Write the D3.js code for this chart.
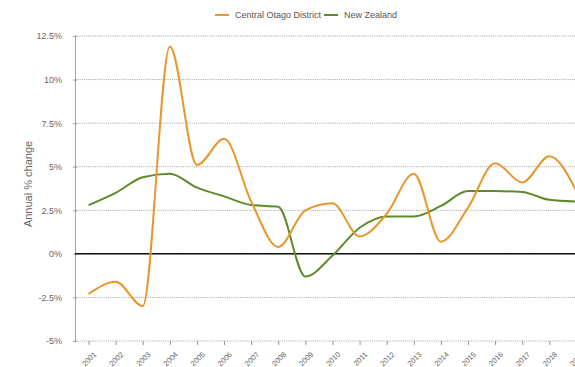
<!DOCTYPE html>
<html>
<head>
<meta charset="utf-8">
<script src="https://cdn.jsdelivr.net/npm/d3@7"></script>
<style>
  html, body { margin: 0; padding: 0; background: #fff; }
  svg { display: block; font-family: "Liberation Sans", Arial, sans-serif; }
</style>
</head>
<body>
<svg id="chart" width="575" height="367"></svg>
<script>
// Annual % change, 2001–2019
const years = ["2001","2002","2003","2004","2005","2006","2007","2008","2009","2010",
               "2011","2012","2013","2014","2015","2016","2017","2018","2019"];
const centralOtago = [-2.3, -1.6, -3.0, 11.9, 5.1, 6.6, 3.0, 0.4, 2.5, 2.9,
                      1.0, 2.3, 4.6, 0.7, 2.65, 5.2, 4.1, 5.6, 3.6];
const newZealand   = [2.8, 3.5, 4.4, 4.6, 3.8, 3.3, 2.8, 2.7, -1.3, -0.1,
                      1.5, 2.15, 2.15, 2.75, 3.6, 3.6, 3.55, 3.1, 3.0];
const yTicks = [-5, -2.5, 0, 2.5, 5, 7.5, 10, 12.5];
const seriesNames = ["Central Otago District", "New Zealand"];
const seriesColors = ["#E8972E", "#5E8B2A"];

const svg = d3.select("#chart");
const plotLeft = 75, plotRight = 590, plotTop = 36, plotBottom = 341;

const x = d3.scalePoint().domain(years).range([plotLeft, plotRight]).padding(0.5);
const y = d3.scaleLinear().domain([-5, 12.5]).range([plotBottom, plotTop]);

const fmt = v => (Number.isInteger(v) ? v : v.toFixed(1)) + "%";

// Horizontal dotted gridlines
svg.append("g")
  .selectAll("line")
  .data(yTicks)
  .join("line")
  .attr("x1", plotLeft).attr("x2", 575)
  .attr("y1", d => y(d)).attr("y2", d => y(d))
  .attr("stroke", "#9a9a9a")
  .attr("stroke-width", 0.8)
  .attr("stroke-dasharray", "1.2,1");

// Y axis with small ticks straddling the axis line
const yAxis = svg.append("g")
  .attr("transform", `translate(${plotLeft},0)`)
  .call(d3.axisLeft(y).tickValues(yTicks).tickFormat(fmt).tickSize(2).tickSizeOuter(0).tickPadding(11));
yAxis.select(".domain").attr("stroke", "#8c8c8c").attr("stroke-width", 0.8);
yAxis.selectAll(".tick line").attr("x2", -2).attr("x1", 2).attr("stroke", "#8c8c8c").attr("stroke-width", 0.8);
yAxis.selectAll("text").attr("fill", "#666").style("font-size", "9px");

// X axis
const xAxis = svg.append("g")
  .attr("transform", `translate(0,${plotBottom})`)
  .call(d3.axisBottom(x).tickSize(4).tickSizeOuter(0));
xAxis.select(".domain").remove();
xAxis.selectAll(".tick line").attr("stroke", "#777").attr("stroke-width", 0.8);
xAxis.selectAll("text")
  .attr("fill", "#666")
  .style("font-size", "7.5px")
  .attr("text-anchor", "end")
  .attr("dx", 0).attr("dy", 0)
  .attr("transform", "translate(3,9) rotate(-45)");

// Zero line
svg.append("line")
  .attr("x1", plotLeft).attr("x2", 575)
  .attr("y1", y(0)).attr("y2", y(0))
  .attr("stroke", "#111").attr("stroke-width", 1.5);

// Series lines
const line = d3.line()
  .x((d, i) => x(years[i]))
  .y(d => y(d))
  .curve(d3.curveMonotoneX);

[[newZealand, seriesColors[1]], [centralOtago, seriesColors[0]]].forEach(([vals, color]) => {
  svg.append("path")
    .datum(vals)
    .attr("d", line)
    .attr("fill", "none")
    .attr("stroke", color)
    .attr("stroke-width", 2)
    .attr("stroke-linejoin", "round");
});

// Y axis title
svg.append("text")
  .attr("transform", `translate(32,184) rotate(-90)`)
  .attr("text-anchor", "middle")
  .attr("fill", "#666")
  .style("font-size", "11px")
  .text("Annual % change");

// Legend
const legend = svg.append("g").attr("transform", "translate(215,15)");
let lx = 0;
seriesNames.forEach((name, i) => {
  const g = legend.append("g").attr("transform", `translate(${lx},0)`);
  g.append("line").attr("x1", 0).attr("x2", 14).attr("y1", 0).attr("y2", 0)
    .attr("stroke", seriesColors[i]).attr("stroke-width", 2);
  const t = g.append("text").attr("x", 20).attr("y", 3)
    .attr("fill", "#555").style("font-size", "9px").text(name);
  lx += 20 + t.node().getComputedTextLength() + 3;
});
</script>
</body>
</html>
